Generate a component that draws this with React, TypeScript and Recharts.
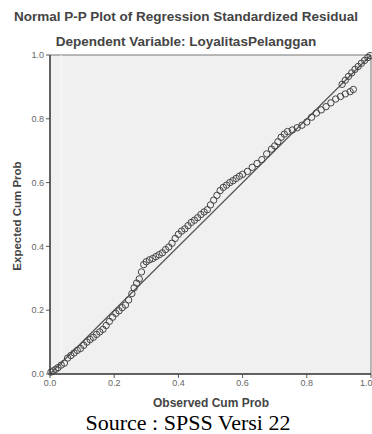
import {ReferenceArea, ReferenceLine, Scatter, ScatterChart, XAxis, YAxis} from "recharts";

// observed cumulative probability (x) and expected cumulative probability (y)
const observed: number[] = [
  0.003, 0.01, 0.018, 0.025, 0.035, 0.045, 0.055, 0.065, 0.075, 0.085,
  0.095, 0.105, 0.115, 0.125, 0.135, 0.145, 0.155, 0.165, 0.175, 0.185,
  0.195, 0.205, 0.215, 0.225, 0.235, 0.245, 0.255, 0.262, 0.27, 0.278,
  0.285, 0.292, 0.3, 0.31, 0.32, 0.33, 0.34, 0.35, 0.36, 0.37,
  0.38, 0.39, 0.4, 0.41, 0.42, 0.43, 0.44, 0.45, 0.46, 0.47,
  0.48, 0.49, 0.5, 0.51, 0.52, 0.53, 0.54, 0.55, 0.56, 0.57,
  0.58, 0.59, 0.6, 0.615, 0.63, 0.645, 0.66, 0.675, 0.69, 0.7,
  0.71, 0.72, 0.73, 0.74, 0.755, 0.77, 0.785, 0.8, 0.815, 0.83,
  0.845, 0.86, 0.875, 0.89, 0.905, 0.92, 0.935, 0.945,
  0.91, 0.92, 0.93, 0.94, 0.95, 0.96, 0.97, 0.98, 0.99, 0.997,
];
const expected: number[] = [
  0.006, 0.01, 0.015, 0.02, 0.028, 0.034, 0.05, 0.058, 0.066, 0.074,
  0.08, 0.09, 0.1, 0.108, 0.115, 0.124, 0.132, 0.14, 0.152, 0.165,
  0.178, 0.19, 0.198, 0.208, 0.216, 0.232, 0.252, 0.27, 0.285, 0.298,
  0.32, 0.343, 0.352, 0.358, 0.362, 0.368, 0.374, 0.38, 0.39, 0.398,
  0.41, 0.425, 0.438, 0.448, 0.455, 0.465, 0.475, 0.482, 0.49, 0.5,
  0.508, 0.515, 0.53, 0.545, 0.56, 0.575, 0.585, 0.592, 0.6, 0.606,
  0.613, 0.62, 0.626, 0.635, 0.648, 0.66, 0.672, 0.69, 0.705, 0.715,
  0.728, 0.742, 0.752, 0.76, 0.765, 0.772, 0.78, 0.79, 0.805, 0.818,
  0.828, 0.838, 0.85, 0.862, 0.87, 0.878, 0.885, 0.892,
  0.908, 0.921, 0.933, 0.944, 0.955, 0.964, 0.974, 0.983, 0.992, 0.998,
];
const ticks: number[] = [0, 0.2, 0.4, 0.6, 0.8, 1];

const points = observed.map((x, i) => ({x, y: expected[i]}));

const sans = "'Liberation Sans', Arial, sans-serif";

export default function App() {
  return (
    <div style={{position: "absolute", left: 0, top: 0, width: 372, height: 434, background: "#fff", overflow: "hidden", fontFamily: sans}}>
      <div style={{position: "absolute", top: 9, width: 372, textAlign: "center", fontSize: 13.5, fontWeight: "bold", color: "#444", whiteSpace: "nowrap"}}>
        Normal P-P Plot of Regression Standardized Residual
      </div>
      <div style={{position: "absolute", top: 34, left: 0, width: 372, textAlign: "center", fontSize: 13.5, fontWeight: "bold", color: "#444"}}>
        Dependent Variable: LoyalitasPelanggan
      </div>
      <ScatterChart width={372} height={434} margin={{top: 55, right: 1, left: 10, bottom: 30}}>
        <ReferenceArea x1={0} x2={1} y1={0} y2={1} fill="#f0f0f0" fillOpacity={1} stroke="#777" strokeWidth={1}/>
        <ReferenceLine x={0.035} stroke="#fafafa" strokeWidth={1}/>
        <XAxis type="number" dataKey="x" domain={[0, 1]} ticks={ticks} height={30}
               tickFormatter={(v: number) => v.toFixed(1)}
               tick={{fontSize: 9, fill: "#666"}} tickLine={{stroke: "#555"}} tickSize={4}
               axisLine={{stroke: "#444", strokeWidth: 1.5}}/>
        <YAxis type="number" dataKey="y" domain={[0, 1]} ticks={ticks} width={40}
               tickFormatter={(v: number) => v.toFixed(1)}
               tick={{fontSize: 9, fill: "#666"}} tickLine={{stroke: "#555"}} tickSize={4}
               axisLine={{stroke: "#444", strokeWidth: 1.5}}/>
        <ReferenceLine segment={[{x: 0, y: 0}, {x: 1, y: 1}]} stroke="#555" strokeWidth={1.2}/>
        <Scatter data={points} isAnimationActive={false}
                 shape={(p: any) => <circle cx={p.cx} cy={p.cy} r={3.2} fill="none" stroke="#444" strokeWidth={1}/>}/>
      </ScatterChart>
      <div style={{position: "absolute", left: 17, top: 216, transform: "translate(-50%, -50%) rotate(-90deg)", whiteSpace: "nowrap", fontSize: 11.5, fontWeight: "bold", color: "#444"}}>
        Expected Cum Prob
      </div>
      <div style={{position: "absolute", top: 396, left: 211, transform: "translateX(-50%)", whiteSpace: "nowrap", fontSize: 12, lineHeight: "14px", fontWeight: "bold", color: "#444"}}>
        Observed Cum Prob
      </div>
      <div style={{position: "absolute", top: 411, left: 188, transform: "translateX(-50%)", whiteSpace: "nowrap", fontSize: 22, lineHeight: "23px", fontFamily: "'Liberation Serif', 'Times New Roman', serif", color: "#000"}}>
        Source : SPSS Versi 22
      </div>
    </div>
  );
}
